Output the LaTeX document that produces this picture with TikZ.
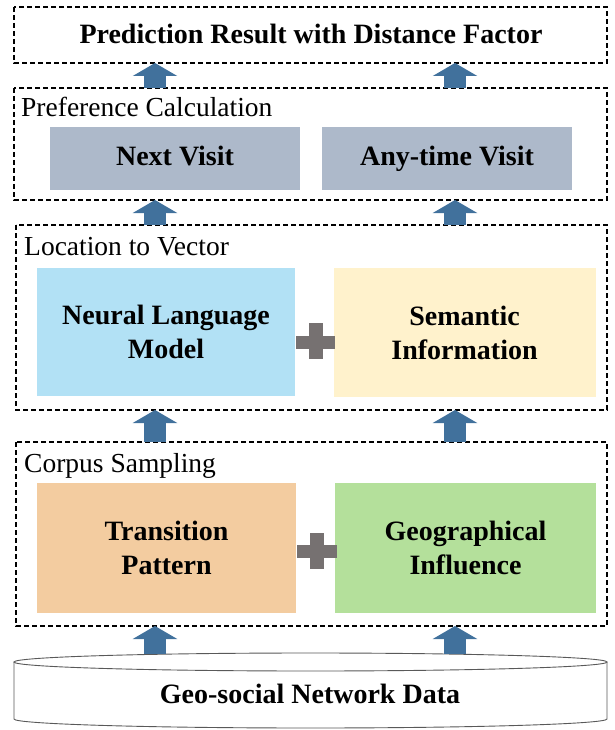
\documentclass[tikz,border=0pt]{standalone}
\usepackage{fontspec}
\setmainfont{Liberation Serif}
\usetikzlibrary{arrows.meta}
\definecolor{arrowblue}{HTML}{41719C}
\definecolor{visitfill}{HTML}{ADB9CA}
\definecolor{neuralfill}{HTML}{B2E1F5}
\definecolor{semfill}{HTML}{FFF2CC}
\definecolor{transfill}{HTML}{F3CCA0}
\definecolor{geofill}{HTML}{B4E09B}
\definecolor{plusgray}{HTML}{767171}
\begin{document}
\begin{tikzpicture}[x=1pt,y=-1pt,
  dbox/.style={draw=black, line width=1.8pt, dash pattern=on 5pt off 3pt},
  cbox/.style={draw=none, inner sep=0pt, align=center, font=\fontsize{28}{34}\selectfont\bfseries},
  grp/.style={anchor=west, inner sep=0pt, font=\fontsize{27.5}{32}\selectfont},
  barrow/.style={line width=22pt, arrowblue, -{Triangle[width=44pt,length=13pt]}},
  plusbar/.style={fill=plusgray}]
\useasboundingbox (0,0) rectangle (615,730);
% group boxes
\draw[dbox] (14,7) rectangle (607,63);
\node[cbox] (res) at (311,37) {\strut Prediction Result with Distance Factor};
\draw[dbox] (14,88) rectangle (607,200);
\node[grp] (preflab) at (21,107) {Preference Calculation};
\draw[dbox] (16,225) rectangle (607,410);
\node[grp] (loclab) at (24,247) {Location to Vector};
\draw[dbox] (16,442) rectangle (607,626);
\node[grp] (corlab) at (24,466) {Corpus Sampling};
% content nodes
\node[cbox, fill=visitfill, minimum width=250pt, minimum height=63pt] (next) at (175,158.5) {\strut Next Visit};
\node[cbox, fill=visitfill, minimum width=250pt, minimum height=63pt] (any) at (447,158.5) {\strut Any-time Visit};
\node[cbox, fill=neuralfill, minimum width=258pt, minimum height=128pt] (neural) at (166,332) {Neural Language\\Model};
\node[cbox, fill=semfill, minimum width=262pt, minimum height=129pt] (sem) at (464.5,332.5) {Semantic\\Information};
\node[cbox, fill=transfill, minimum width=259pt, minimum height=130pt] (trans) at (166.5,548) {Transition\\Pattern};
\node[cbox, fill=geofill, minimum width=261pt, minimum height=130pt] (geo) at (465.5,548) {Geographical\\Influence};
% plus signs
\fill[plusgray] (296,335.5) rectangle (335,349);
\fill[plusgray] (309,323) rectangle (323,359);
\fill[plusgray] (297,545) rectangle (337,558);
\fill[plusgray] (310,533) rectangle (324,569);
% cylinder
\draw[black!65, line width=0.9pt, fill=white] (14,662) -- (14,719) arc[start angle=180, end angle=360, x radius=296.5pt, y radius=9pt] -- (607,662);
\draw[black!65, line width=0.9pt, fill=white] (310.5,662) ellipse[x radius=296.5pt, y radius=9pt];
\node[cbox] (data) at (310,697) {\strut Geo-social Network Data};
% block arrows
\draw[barrow] (155,88) -- (155,63);
\draw[barrow] (455,88) -- (455,63);
\draw[barrow] (155,225) -- (155,200);
\draw[barrow] (455,225) -- (455,200);
\draw[barrow] (155,442) -- (155,410);
\draw[barrow] (455,442) -- (455,410);
\draw[barrow] (155,654) -- (155,626);
\draw[barrow] (455,654) -- (455,626);
\end{tikzpicture}
\end{document}
